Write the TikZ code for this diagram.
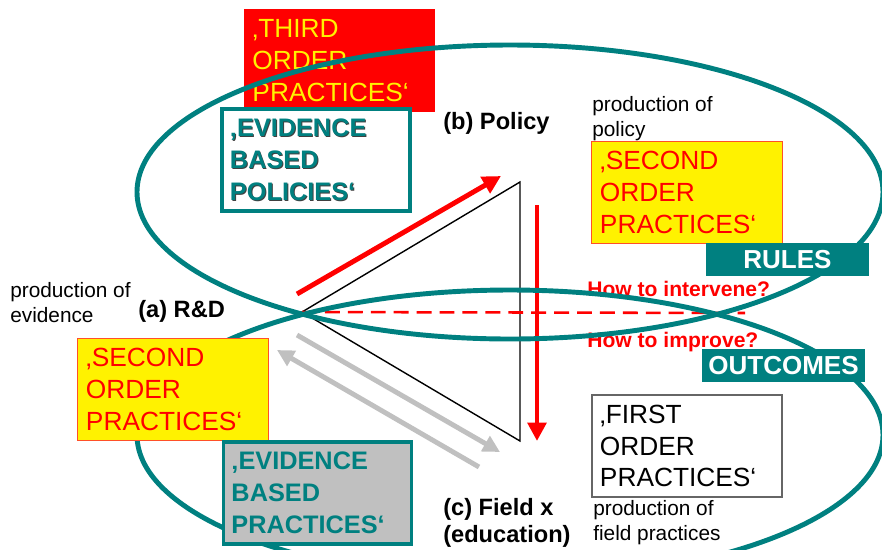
\documentclass[tikz,border=0pt]{standalone}
\usepackage{fontspec}
\setmainfont{Liberation Sans}
\usepackage{xcolor}
\usetikzlibrary{arrows.meta, positioning}
\definecolor{evteal}{RGB}{0,128,128}
\definecolor{boxred}{RGB}{255,80,40}
\definecolor{lgrey}{RGB}{192,192,192}
\newcommand\shadowed[1]{\makebox[0pt][l]{\hspace{0.7pt}\raisebox{-0.7pt}{\color{black!75}#1}}#1}
\tikzset{
  pbox/.style={rectangle,minimum height=2.55cm,text width=4.35cm,inner xsep=0.2cm,align=left,font=\fontsize{18.7}{22.7}\selectfont},
  yb/.style={pbox,draw=boxred,line width=0.7pt,fill=yellow,text=red},
  rb/.style={pbox,fill=red,text=yellow},
  wb/.style={pbox,draw=black!60,line width=0.8pt,fill=white,text=black},
  eb/.style={pbox,text width=4.3cm,draw=evteal,line width=2.8pt,text=evteal,font=\fontsize{18}{22.7}\selectfont\bfseries},
  tb/.style={rectangle,fill=evteal,text=white,minimum width=4.075cm,minimum height=0.825cm,inner sep=0,font=\fontsize{18.5}{20}\selectfont\bfseries},
  lbl/.style={anchor=north west,inner sep=0,align=left,font=\fontsize{14.8}{17.7}\selectfont},
  hd/.style={lbl,font=\fontsize{16.8}{19.4}\selectfont\bfseries},
  qn/.style={lbl,text=red,font=\fontsize{15}{17}\selectfont\bfseries},
  ring/.style={draw=evteal,line width=3.5pt},
  rarr/.style={->,>={Triangle[length=13pt,width=13pt]},red,line width=3.5pt},
  garr/.style={->,>={Triangle[length=12pt,width=12pt]},lgrey,line width=3.5pt},
}

\begin{document}
\begin{tikzpicture}[x=0.025cm,y=-0.025cm]
  \useasboundingbox (0,0) rectangle (882,549);
  \clip (0,0) rectangle (882,549);

  \node [rb] (third) at (339.5,60.5) {‚THIRD\\ORDER\\PRACTICES‘};

  \node [lbl] (prodpol) at (592,96) {production of\\policy};
  \node [hd] (policy) at (443,112) {(b) Policy};
  \node [lbl] (prodev) at (10,282) {production of\\evidence};
  \node [hd] (rnd) at (138,300) {(a) R\&D};
  \node [hd] (field) at (443,498) {(c) Field x\\(education)};
  \node [lbl] (prodfield) at (593,500) {production of\\field practices};
  \node [qn] (interv) at (587,281) {How to intervene?};
  \node [qn] (improve) at (587,332) {How to improve?};

  \coordinate (rd) at (302,312);
  \coordinate (top) at (520,182);
  \coordinate (bot) at (520,441);
  \draw [line width=1pt] (rd) -- (top) -- (bot) -- cycle;

  \coordinate (upA) at (297,294);
  \coordinate (upB) at (501,176);
  \coordinate (dnA) at (537,205);
  \coordinate (dnB) at (537,441);
  \coordinate (dashB) at (745,313);
  \draw [rarr] (upA) -- (upB);
  \draw [rarr] (dnA) -- (dnB);
  \draw [red,line width=1.8pt,dash pattern=on 10.6pt off 5.7pt] (rd) -- (dashB);

  \coordinate (gA) at (479,467);
  \coordinate (gB) at (277,350);
  \coordinate (gC) at (297,335);
  \coordinate (gD) at (500,452);
  \draw [garr] (gA) -- (gB);
  \draw [garr] (gC) -- (gD);

  % the two fields
  \draw [ring] (510,192) ellipse [x radius=373, y radius=147];
  \draw [ring] (510,435) ellipse [x radius=373, y radius=145];

  \node [eb,fill=white] (ebpol) at (316,160) {\shadowed{‚EVIDENCE}\\\shadowed{BASED}\\\shadowed{POLICIES‘}};
  \node [yb] (sectop) at (687,192.5) {‚SECOND\\ORDER\\PRACTICES‘};
  \node [yb] (secleft) at (173,389.5) {‚SECOND\\ORDER\\PRACTICES‘};
  \node [wb] (first) at (687,446) {‚FIRST\\ORDER\\PRACTICES‘};
  \node [eb,fill=lgrey] (ebprac) at (317.5,493) {‚EVIDENCE\\BASED\\PRACTICES‘};
  \node [tb] (rules) at (787.5,259.5) {RULES};
  \node [tb] (outc) at (783.5,365.5) {OUTCOMES};
\end{tikzpicture}
\end{document}
